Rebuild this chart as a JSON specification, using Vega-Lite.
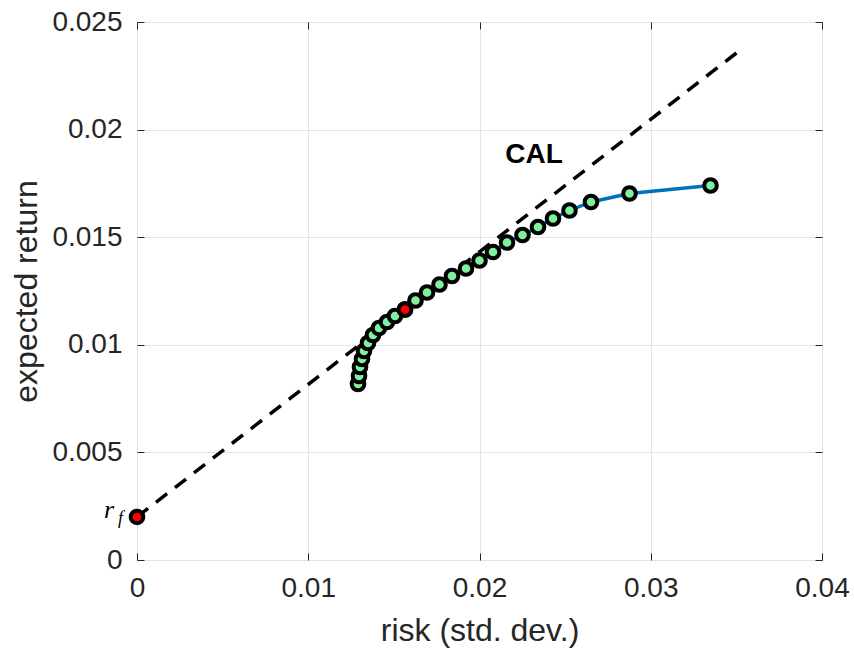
{
  "$schema": "https://vega.github.io/schema/vega-lite/v6.json",
  "width": 685,
  "height": 538,
  "autosize": {"type": "none"},
  "padding": {"left": 137, "top": 22, "right": 32, "bottom": 91},
  "background": "white",
  "config": {
    "view": {"stroke": "#262626", "strokeWidth": 1},
    "axis": {
      "labelFont": "Liberation Sans",
      "titleFont": "Liberation Sans",
      "labelFontSize": 28,
      "titleFontSize": 32,
      "labelColor": "#262626",
      "titleColor": "#262626",
      "titleFontWeight": "normal",
      "labelFlush": false,
      "labelOverlap": false,
      "domain": false,
      "tickColor": "#262626",
      "gridColor": "#e3e3e3",
      "gridWidth": 1
    }
  },
  "datasets": {
    "frontier": [
      {"risk": 0.012905, "ret": 0.008178},
      {"risk": 0.012964, "ret": 0.008550},
      {"risk": 0.013022, "ret": 0.008968},
      {"risk": 0.013139, "ret": 0.009340},
      {"risk": 0.013255, "ret": 0.009712},
      {"risk": 0.013489, "ret": 0.010084},
      {"risk": 0.013781, "ret": 0.010455},
      {"risk": 0.014131, "ret": 0.010781},
      {"risk": 0.014599, "ret": 0.011059},
      {"risk": 0.015066, "ret": 0.011338},
      {"risk": 0.015650, "ret": 0.011640},
      {"risk": 0.016263, "ret": 0.012059},
      {"risk": 0.016934, "ret": 0.012430},
      {"risk": 0.017664, "ret": 0.012802},
      {"risk": 0.018394, "ret": 0.013197},
      {"risk": 0.019212, "ret": 0.013546},
      {"risk": 0.020000, "ret": 0.013917},
      {"risk": 0.020788, "ret": 0.014312},
      {"risk": 0.021606, "ret": 0.014754},
      {"risk": 0.022511, "ret": 0.015102},
      {"risk": 0.023416, "ret": 0.015474},
      {"risk": 0.024292, "ret": 0.015869},
      {"risk": 0.025255, "ret": 0.016241},
      {"risk": 0.026511, "ret": 0.016636},
      {"risk": 0.028759, "ret": 0.017031},
      {"risk": 0.033489, "ret": 0.017403}
    ],
    "cal": [
      {"risk": 0.0, "ret": 0.002},
      {"risk": 0.0351, "ret": 0.02362}
    ],
    "special": [
      {"risk": 0.0, "ret": 0.002},
      {"risk": 0.01565, "ret": 0.01164}
    ],
    "callabel": [
      {"risk": 0.02318, "ret": 0.01882, "label": "CAL"}
    ],
    "rflabel": [
      {"risk": 0.0, "ret": 0.002, "r": "r", "f": "f"}
    ]
  },
  "resolve": {"axis": {"x": "independent", "y": "independent"}},
  "layer": [
    {
      "data": {"name": "cal"},
      "mark": {"type": "line", "color": "black", "strokeWidth": 3.5, "strokeDash": [14, 10], "clip": true},
      "encoding": {
        "x": {"field": "risk", "type": "quantitative",
              "scale": {"domain": [0, 0.04], "nice": false},
              "axis": {"orient": "bottom", "title": "risk (std. dev.)", "values": [0, 0.01, 0.02, 0.03, 0.04], "format": "~g", "tickSize": -7, "labelPadding": 21, "titlePadding": 13, "grid": true}},
        "y": {"field": "ret", "type": "quantitative",
              "scale": {"domain": [0, 0.025], "nice": false},
              "axis": {"orient": "left", "title": "expected return", "values": [0, 0.005, 0.01, 0.015, 0.02, 0.025], "format": "~g", "tickSize": -7, "labelPadding": 22, "titlePadding": 8, "grid": true}}
      }
    },
    {
      "data": {"name": "frontier"},
      "mark": {"type": "line", "color": "#0072BD", "strokeWidth": 3.5},
      "encoding": {
        "x": {"field": "risk", "type": "quantitative",
              "axis": {"orient": "top", "title": null, "labels": false, "grid": false, "values": [0, 0.01, 0.02, 0.03, 0.04], "tickSize": -7}},
        "y": {"field": "ret", "type": "quantitative",
              "axis": {"orient": "right", "title": null, "labels": false, "grid": false, "values": [0, 0.005, 0.01, 0.015, 0.02, 0.025], "tickSize": -7}}
      }
    },
    {
      "data": {"name": "frontier"},
      "mark": {"type": "point", "shape": "circle", "filled": true, "fill": "#80F09A", "stroke": "black", "strokeWidth": 4, "size": 160, "opacity": 1},
      "encoding": {
        "x": {"field": "risk", "type": "quantitative", "axis": null},
        "y": {"field": "ret", "type": "quantitative", "axis": null}
      }
    },
    {
      "data": {"name": "special"},
      "mark": {"type": "point", "shape": "circle", "filled": true, "fill": "#FF0000", "stroke": "black", "strokeWidth": 4, "size": 160, "opacity": 1, "clip": false},
      "encoding": {
        "x": {"field": "risk", "type": "quantitative", "axis": null},
        "y": {"field": "ret", "type": "quantitative", "axis": null}
      }
    },
    {
      "data": {"name": "callabel"},
      "mark": {"type": "text", "font": "Liberation Sans", "fontWeight": "bold", "fontSize": 28, "color": "black", "align": "center", "baseline": "middle"},
      "encoding": {
        "x": {"field": "risk", "type": "quantitative", "axis": null},
        "y": {"field": "ret", "type": "quantitative", "axis": null},
        "text": {"field": "label"}
      }
    },
    {
      "data": {"name": "rflabel"},
      "mark": {"type": "text", "font": "Liberation Serif", "fontStyle": "italic", "fontSize": 26, "color": "black", "align": "right", "baseline": "alphabetic", "dx": -23, "dy": 1},
      "encoding": {
        "x": {"field": "risk", "type": "quantitative", "axis": null},
        "y": {"field": "ret", "type": "quantitative", "axis": null},
        "text": {"field": "r"}
      }
    },
    {
      "data": {"name": "rflabel"},
      "mark": {"type": "text", "font": "Liberation Serif", "fontStyle": "italic", "fontSize": 18, "color": "black", "align": "right", "baseline": "alphabetic", "dx": -14, "dy": 7},
      "encoding": {
        "x": {"field": "risk", "type": "quantitative", "axis": null},
        "y": {"field": "ret", "type": "quantitative", "axis": null},
        "text": {"field": "f"}
      }
    }
  ]
}
